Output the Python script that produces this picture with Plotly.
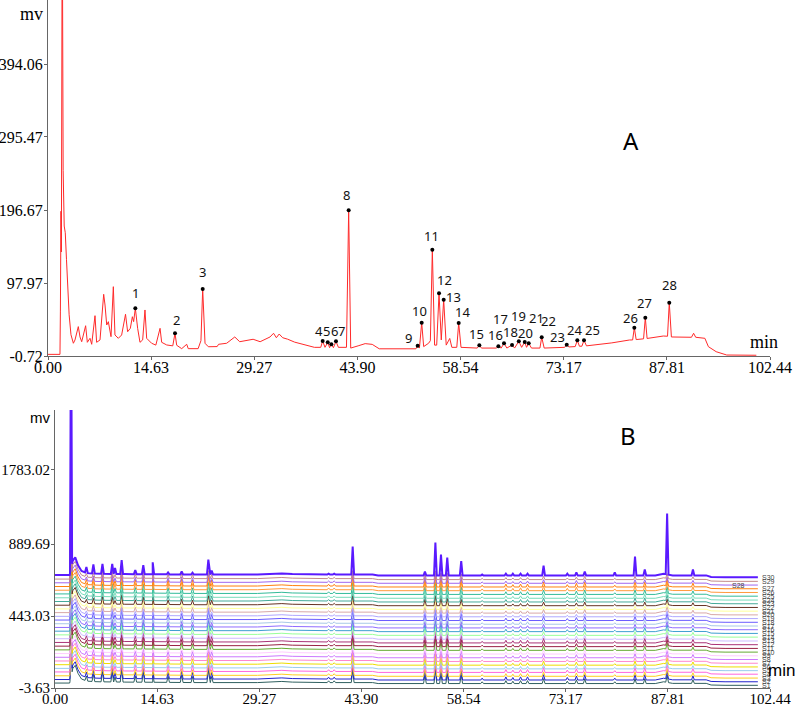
import numpy as np
import plotly.graph_objects as go

# ---------------- Panel A data (single chromatogram) ----------------
a_time = [0.0, 1.70, 1.76, 1.84, 1.90, 2.02, 2.15, 2.30, 2.45, 2.62, 2.80, 3.00, 3.26, 3.60,
          3.83, 4.30, 4.54, 4.78, 5.34, 5.58, 5.96, 6.20, 6.67, 6.90, 7.38, 7.90, 8.09, 8.33,
          8.56, 8.94, 9.27, 9.50, 9.98, 10.45, 11.00, 11.30, 11.68, 11.97, 12.15, 12.39, 12.72,
          13.05, 13.43, 13.76, 14.00, 14.70, 15.30, 15.90, 16.13, 16.84, 17.70, 18.02, 18.26,
          18.97, 19.68, 19.90, 21.30, 21.70, 21.95, 22.28, 22.75, 24.00, 24.20, 25.35, 26.50,
          27.20, 29.10, 30.10, 31.5, 32.0, 32.4, 32.8, 33.3, 34.0, 35.0, 36.5, 37.8, 38.7,
          38.97, 39.3, 39.69, 39.95, 40.20, 40.5, 40.86, 41.2, 42.35, 42.66, 42.95, 44.0, 45.0,
          46.0, 47.0, 52.2, 52.45, 52.7, 53.02, 53.3, 54.0, 54.25, 54.53, 54.85, 55.15, 55.48,
          55.8, 56.14, 56.5, 57.0, 57.3, 58.0, 58.27, 58.6, 60.9, 61.2, 61.5, 63.6, 63.9, 64.3,
          64.7, 65.1, 65.84, 66.2, 66.8, 67.2, 67.64, 67.9, 68.2, 68.6, 69.8, 70.05, 70.4,
          73.3, 73.6, 73.9, 74.8, 75.1, 75.4, 75.75, 76.05, 76.4, 77.8, 80.0, 82.5, 82.95,
          83.19, 83.45, 84.5, 84.75, 85.0, 86.5, 87.3, 87.9, 88.15, 88.45, 91.3, 91.6, 91.9,
          93.2, 93.7, 94.8, 96.3, 100.5]
a_signal = [1.5, 1.5, 60, 195, 140, 620, 250, 175, 166, 130, 91, 55, 28, 16.5,
            21, 39, 25, 18.6, 40.2, 17.8, 23.2, 15.1, 53.8, 17.8, 21, 82.7, 68.2, 41.2,
            45.7, 25.4, 93, 27.7, 23.2, 27.7, 55.7, 32.1, 36.7, 52.4, 45.7, 63.8, 36.7,
            17.8, 21, 61.5, 23.2, 16.5, 14, 36.7, 17.8, 14.2, 13, 30, 13.8,
            9.2, 15.1, 9.2, 9.2, 20, 89.9, 16.5, 11.8, 12, 15.1, 16.5, 25,
            18.6, 21.9, 18.6, 25, 30, 24, 29, 24, 22, 18, 14, 11, 11,
            19.6, 11, 17.8, 10.5, 15.1, 10.5, 19.2, 11, 11, 196.3, 10, 13, 16,
            15, 9, 9, 13.2, 10, 44.3, 12, 16.5, 20, 143, 14, 14, 84,
            21, 75.4, 14, 23, 11, 11, 43.9, 11, 10, 13.7, 10, 10, 12.4, 10,
            16.5, 10, 14.2, 10, 19.2, 11, 18.2, 11, 16.5, 10, 10, 24.6, 10,
            11, 14.6, 11.5, 12, 20.5, 12.5, 12.5, 20.5, 13, 14.2, 17, 20.9, 21,
            37.5, 21.5, 22.5, 51.1, 23, 25, 26.3, 26, 71.3, 25, 24.6, 30, 24.6,
            23.2, 11.9, 5.1, 0.6, 0.3]

a_peak_time = [12.39, 18.02, 21.95, 38.97, 39.69, 40.20, 40.86, 42.66, 52.45, 53.02,
               54.53, 55.48, 56.14, 58.27, 61.2, 63.9, 64.7, 65.84, 66.8, 67.64,
               68.2, 70.05, 73.6, 75.1, 76.05, 83.19, 84.75, 88.15]
a_peak_value = [63.8, 30, 89.9, 19.6, 17.8, 15.1, 19.2, 196.3, 13.2, 44.3,
                143, 84, 75.4, 43.9, 13.7, 12.4, 16.5, 14.2, 19.2, 18.2,
                16.5, 24.6, 14.6, 20.5, 20.5, 37.5, 51.1, 71.3]
a_peak_label = [str(i) for i in range(1, 29)]

x_tick_vals = [0.00, 14.63, 29.27, 43.90, 58.54, 73.17, 87.81, 102.44]
x_tick_text = ["0.00", "14.63", "29.27", "43.90", "58.54", "73.17", "87.81", "102.44"]
a_y_tick_vals = [-0.72, 97.97, 196.67, 295.47, 394.06]
a_y_tick_text = ["-0.72", "97.97", "196.67", "295.47", "394.06"]
b_y_tick_vals = [-3.63, 443.03, 889.69, 1350.0]
b_y_tick_text = ["-3.63", "443.03", "889.69", "1783.02"]

# ---------------- Panel B data (30 stacked chromatograms) ----------------
b_sample_names = ["S%d" % i for i in range(1, 31)]
b_offsets = [27, 49, 72, 96, 118, 141, 164, 187, 210, 233, 256, 279, 302, 326, 349,
             372, 395, 418, 441, 464, 487, 510, 533, 556, 580, 603, 626, 649, 672, 697]
b_drift_t = [0, 2.1, 2.55, 2.9, 3.3, 3.8, 4.6, 6.0, 8.0, 10.0, 14.0, 20.0, 29.0, 31.0,
             32.5, 34.0, 37.0, 45.5, 46.3, 86.0, 87.2, 88.5, 93.3, 94.0, 96.0, 100.7]
b_drift_v = [0, 0, 90, 110, 60, 25, 12, 8, 7, 6, 5, 3, 3, 8,
             10, 6, 3, 3, -3, -3, 8, -2, -2, -12, -14, -14]
b_peak_t = [4.5, 5.5, 6.8, 8.2, 8.6, 9.55, 11.5, 12.65, 14.0, 16.2, 18.15, 19.7, 21.97,
            22.45, 39.2, 40.0, 42.65, 53.0, 54.5, 55.3, 56.2, 58.2, 61.2, 64.6, 65.6,
            66.7, 67.7, 70.0, 73.4, 74.7, 75.9, 80.2, 83.1, 84.5, 87.7, 91.4]
b_peak_h_typ = [25, 37, 50, 50, 25, 62, 31, 50, 50, 31, 37, 31, 62,
                31, 9, 9, 62, 43, 68, 50, 50, 43, 9, 15, 12,
                15, 15, 25, 12, 19, 25, 9, 25, 25, 37, 19]
b_peak_h_s30 = [37, 56, 62, 62, 37, 87, 25, 56, 74, 12, 19, 12, 93,
                25, 6, 6, 174, 25, 205, 130, 112, 90, 6, 12, 12,
                12, 12, 62, 12, 19, 25, 19, 118, 37, 378, 37]
b_scale = [1.2, 1.3, 1.1, 1.2, 1.0, 1.0, 0.9, 1.0, 0.9, 1.0, 1.0, 1.1, 1.0, 0.9, 1.0,
           0.9, 1.0, 1.0, 0.8, 0.9, 0.8, 0.9, 1.0, 1.0, 1.1, 1.2, 1.2, 0.9, 0.8]
b_solvent_t = 2.3
b_solvent_h = [700, 650, 800, 750, 900, 600, 850, 700, 950, 800, 650, 900, 750, 850, 700,
               800, 950, 650, 800, 700, 900, 750, 850, 700, 950, 1000, 1100, 900, 800, 1800]

# ---------------- styles ----------------
b_colors = ["#2f5f5f", "#2222cc", "#ffcc22", "#ff66dd", "#99ccee", "#eedd00", "#ff88cc",
            "#cc77ff", "#ffccff", "#66aa33", "#992244", "#aa3377", "#ccbbff", "#99ff99",
            "#3ea0d0", "#8f6cff", "#a8c8e8", "#6a5cff", "#b0a8ff", "#d8a8a8", "#ffff99",
            "#663322", "#44aa99", "#77ddbb", "#33bb99", "#ff9a3c", "#ff7f0e", "#a066ee",
            "#c48a8a", "#5a1aff"]
label_shift = [(0, -15), (1, -13), (0, -17), (-4, -10), (-1, -11), (3, -13), (6, -10),
               (-2, -15), (-9, -8), (-2, -12), (-1, -14), (5, -13), (10, -3), (4, -11),
               (-3, -11), (-3, -11), (-4, -24), (-2, -13), (0, -25), (1, -9), (8, -25),
               (7, -16), (-9, -8), (-3, -10), (8, -10), (-4, -10), (-1, -15), (0, -18)]
PEAK_HW = 0.2
SOLV_HW = 0.15
W, H = 797, 708
SERIF = "Liberation Serif"
SANS = "Noto Sans"

fig = go.Figure()

fig.add_trace(go.Scatter(x=a_time, y=a_signal, mode="lines",
                         line=dict(color="#ff2a2a", width=1), xaxis="x", yaxis="y",
                         showlegend=False, hoverinfo="skip"))
fig.add_trace(go.Scatter(x=a_peak_time, y=a_peak_value, mode="markers",
                         marker=dict(color="black", size=4), xaxis="x", yaxis="y",
                         showlegend=False))

annotations = []
for t, v, lab, (dx, dy) in zip(a_peak_time, a_peak_value, a_peak_label, label_shift):
    annotations.append(dict(x=t, y=v, xref="x", yref="y", text=lab, showarrow=False,
                            xshift=dx, yshift=-dy, xanchor="center", yanchor="middle",
                            font=dict(family=SANS, size=13, color="#111")))

# Panel B traces
b_end_level = []
for i in range(30):
    if i == 29:
        heights = b_peak_h_s30
    else:
        heights = [h * b_scale[i] for h in b_peak_h_typ]
    pts = [(t, 0.0) for t in b_drift_t]
    pts += [(b_solvent_t - SOLV_HW, 0.0), (b_solvent_t, b_solvent_h[i]),
            (b_solvent_t + SOLV_HW, 0.0)]
    for t, h in zip(b_peak_t, heights):
        pts += [(t - PEAK_HW, 0.0), (t, h), (t + PEAK_HW, 0.0)]
    pts.sort(key=lambda p: p[0])
    xs = np.array([p[0] for p in pts])
    extra = np.array([p[1] for p in pts])
    ys = b_offsets[i] + np.interp(xs, b_drift_t, b_drift_v) + extra
    b_end_level.append(ys[-1])
    fig.add_trace(go.Scatter(x=xs, y=ys, mode="lines",
                             line=dict(color=b_colors[i], width=2 if i == 29 else 1),
                             xaxis="x2", yaxis="y2", showlegend=False, hoverinfo="skip"))

for i, name in enumerate(b_sample_names):
    xpos = 730 / W if name == "S28" else 760 / W
    annotations.append(dict(x=xpos, y=b_end_level[i], xref="paper", yref="y2",
                            text=name, showarrow=False, xanchor="left", yanchor="middle",
                            font=dict(family="Liberation Sans", size=7, color="#444")))

def paper(px, py):
    return px / W, 1 - py / H

for txt, px, py, fam, size in [("mv", 32, 14, SERIF, 18), ("min", 764, 342, SERIF, 18),
                               ("A", 631, 140, SANS, 24), ("B", 628, 435, SANS, 24),
                               ("mv", 40, 417, "Liberation Sans", 15),
                               ("min", 781, 670, "Liberation Sans", 17)]:
    x, y = paper(px, py)
    annotations.append(dict(x=x, y=y, xref="paper", yref="paper", text=txt, showarrow=False,
                            xanchor="center", yanchor="middle",
                            font=dict(family=fam, size=size, color="black")))

axis_common = dict(showline=True, linecolor="#666", linewidth=1, ticks="outside", ticklen=3,
                   tickcolor="#666", showgrid=False, zeroline=False, automargin=False)

fig.update_layout(
    width=W, height=H, margin=dict(l=0, r=0, t=0, b=0, autoexpand=False),
    paper_bgcolor="white", plot_bgcolor="white",
    xaxis=dict(domain=[48 / W, 770 / W], range=[0, 102.44], tickvals=x_tick_vals,
               ticktext=x_tick_text, anchor="y", ticklabelstandoff=-6,
               tickfont=dict(family=SERIF, size=16, color="black"), **axis_common),
    yaxis=dict(domain=[1 - 356 / H, 1], range=[-0.72, 480.6], tickvals=a_y_tick_vals,
               ticktext=a_y_tick_text, anchor="x", ticklabelstandoff=-2,
               tickfont=dict(family=SERIF, size=16, color="black"), **axis_common),
    xaxis2=dict(domain=[55 / W, 770 / W], range=[0, 102.44], tickvals=x_tick_vals,
                ticktext=x_tick_text, anchor="y2", ticklabelstandoff=-6,
                tickfont=dict(family=SERIF, size=15, color="black"), **axis_common),
    yaxis2=dict(domain=[1 - 688 / H, 1 - 410 / H], range=[-3.63, 1721], tickvals=b_y_tick_vals,
                ticktext=b_y_tick_text, anchor="x2", ticklabelstandoff=-2,
                tickfont=dict(family=SERIF, size=15, color="black"), **axis_common),
    annotations=annotations,
)

fig.write_html("out.html", config={"displayModeBar": False},
               post_script="document.body.style.margin='0';document.body.style.overflow='hidden';")
